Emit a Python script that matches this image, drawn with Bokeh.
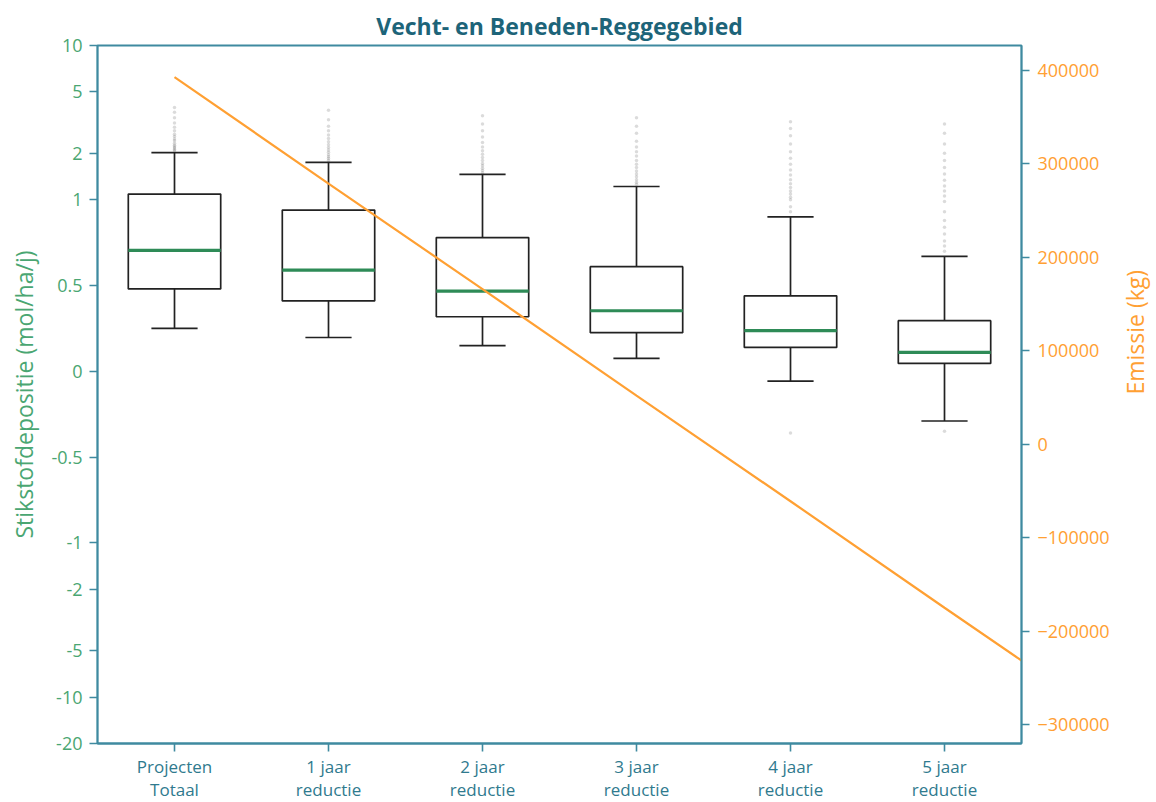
import math
import numpy as np
from bokeh.plotting import figure
from bokeh.models import Range1d, LinearAxis, FixedTicker
from bokeh.embed import file_html
from bokeh.resources import INLINE

# ---------------- data ----------------
categories = ["Projecten\nTotaal", "1 jaar\nreductie", "2 jaar\nreductie",
              "3 jaar\nreductie", "4 jaar\nreductie", "5 jaar\nreductie"]
whisker_hi = [2.02, 1.75, 1.46, 1.22, 0.90, 0.67]
q3 = [1.09, 0.94, 0.78, 0.61, 0.44, 0.295]
median = [0.705, 0.59, 0.468, 0.353, 0.237, 0.11]
q1 = [0.48, 0.41, 0.318, 0.225, 0.139, 0.046]
whisker_lo = [0.25, 0.197, 0.15, 0.075, -0.058, -0.29]

fliers_0 = [2.08, 2.12, 2.17, 2.21, 2.26, 2.33, 2.41, 2.48, 2.57, 2.66, 2.8, 2.95, 3.15, 3.4, 3.7, 3.96]
fliers_1 = [1.8, 1.85, 1.9, 1.96, 2.03, 2.1, 2.18, 2.27, 2.38, 2.5, 2.63, 2.8, 3.0, 3.3, 3.8]
fliers_2 = [1.5, 1.55, 1.6, 1.66, 1.72, 1.8, 1.88, 1.97, 2.08, 2.2, 2.35, 2.55, 2.8, 3.1, 3.5]
fliers_3 = [1.26, 1.3, 1.35, 1.41, 1.47, 1.54, 1.62, 1.7, 1.8, 1.92, 2.05, 2.2, 2.4, 2.7, 3.0, 3.4]
fliers_4 = [0.93, 0.96, 1.0, 1.04, 1.09, 1.14, 1.2, 1.27, 1.35, 1.45, 1.56, 1.7, 1.86, 2.05, 2.3, 2.6, 2.9, 3.2, -0.36]
fliers_5 = [0.7, 0.73, 0.76, 0.8, 0.84, 0.88, 0.93, 0.99, 1.06, 1.14, 1.23, 1.34, 1.47, 1.62, 1.8, 2.0, 2.3, 2.7, 3.1, -0.35]
fliers = [fliers_0, fliers_1, fliers_2, fliers_3, fliers_4, fliers_5]

emission_x = [0, 1, 2, 3, 4, 5, 6]
emission = [393000, 279000, 166000, 52000, -61000, -175000, -288000]

ytick_vals = [10, 5, 2, 1, 0.5, 0, -0.5, -1, -2, -5, -10, -20]
ytick_labels = ["10", "5", "2", "1", "0.5", "0", "-0.5", "-1", "-2", "-5", "-10", "-20"]
em_ticks = [-300000, -200000, -100000, 0, 100000, 200000, 300000, 400000]
em_labels = ["\u2212300000", "\u2212200000", "\u2212100000", "0", "100000", "200000", "300000", "400000"]

# symlog transform (linthresh=1, linscale=1, base 10)
C = 1.0 / (1.0 - 0.1)


def T(v):
    v = float(v)
    if abs(v) <= 1:
        return round(v * C, 9)
    return round(float(np.sign(v)) * (C + np.log10(abs(v))), 9)


FONT = "Open Sans"
TEAL = "#3f8aa0"
TITLE_C = "#1d6479"
GREEN_T = "#4aa672"
ORANGE = "#ffa033"
XLAB = "#2f7a8e"

p = figure(frame_width=924, frame_height=698,
           x_range=Range1d(-0.5, 5.5), y_range=Range1d(T(-20), T(10)),
           output_backend="svg", toolbar_location=None,
           min_border_left=97, min_border_right=135, min_border_top=45, min_border_bottom=59,
           title="Vecht- en Beneden-Reggegebied")
p.extra_y_ranges = {"em": Range1d(-320300, 426800)}

p.title.align = "center"
p.title.text_font = FONT
p.title.text_font_size = "23px"
p.title.text_font_style = "bold"
p.title.text_color = TITLE_C
p.title.standoff = 8
p.xgrid.visible = False
p.ygrid.visible = False
p.outline_line_color = TEAL
p.outline_line_width = 1.8
p.background_fill_color = "white"

xs = list(range(len(categories)))

# whiskers
p.segment(x0=xs, x1=xs, y0=[T(v) for v in q3], y1=[T(v) for v in whisker_hi],
          line_color="#222222", line_width=1.7)
p.segment(x0=xs, x1=xs, y0=[T(v) for v in q1], y1=[T(v) for v in whisker_lo],
          line_color="#222222", line_width=1.7)
# caps
p.segment(x0=[x - 0.15 for x in xs], x1=[x + 0.15 for x in xs],
          y0=[T(v) for v in whisker_hi], y1=[T(v) for v in whisker_hi],
          line_color="#222222", line_width=1.7)
p.segment(x0=[x - 0.15 for x in xs], x1=[x + 0.15 for x in xs],
          y0=[T(v) for v in whisker_lo], y1=[T(v) for v in whisker_lo],
          line_color="#222222", line_width=1.7)
# boxes
p.vbar(x=xs, width=0.6, top=[T(v) for v in q3], bottom=[T(v) for v in q1],
       fill_color="white", line_color="#222222", line_width=1.7)
# medians
p.segment(x0=[x - 0.3 for x in xs], x1=[x + 0.3 for x in xs],
          y0=[T(v) for v in median], y1=[T(v) for v in median],
          line_color="#2e8b57", line_width=3.2)
# fliers
fx, fy = [], []
for i, fl in enumerate(fliers):
    for v in fl:
        fx.append(i)
        fy.append(T(v))
p.scatter(x=fx, y=fy, size=3.5, fill_color="black", line_color=None, fill_alpha=0.14)

# emission line
p.line(x=emission_x, y=emission, y_range_name="em", line_color=ORANGE, line_width=2.2)

# left axis
ya = p.yaxis[0]
ya.ticker = FixedTicker(ticks=[T(v) for v in ytick_vals])
ya.major_label_overrides = {T(v): lab for v, lab in zip(ytick_vals, ytick_labels)}
ya.axis_label = "Stikstofdepositie (mol/ha/j)"
ya.axis_label_text_color = GREEN_T
ya.axis_label_text_font = FONT
ya.axis_label_text_font_size = "23px"
ya.axis_label_text_font_style = "normal"
ya.axis_label_standoff = 8
ya.major_label_text_color = GREEN_T
ya.major_label_text_font = FONT
ya.major_label_text_font_size = "18px"
ya.major_label_standoff = 7

# right axis
ra = LinearAxis(y_range_name="em", ticker=FixedTicker(ticks=em_ticks),
                major_label_overrides={t: lab for t, lab in zip(em_ticks, em_labels)})
ra.axis_label = "Emissie (kg)"
ra.axis_label_orientation = math.pi / 2
ra.axis_label_text_color = ORANGE
ra.axis_label_text_font = FONT
ra.axis_label_text_font_size = "23px"
ra.axis_label_text_font_style = "normal"
ra.axis_label_standoff = 22
ra.major_label_text_color = ORANGE
ra.major_label_text_font = FONT
ra.major_label_text_font_size = "18px"
ra.major_label_standoff = 8
p.add_layout(ra, "right")

# x axis
xa = p.xaxis[0]
xa.ticker = FixedTicker(ticks=xs)
xa.major_label_overrides = {i: c for i, c in enumerate(categories)}
xa.major_label_text_color = XLAB
xa.major_label_text_font = FONT
xa.major_label_text_font_size = "17px"
xa.major_label_text_line_height = 1.0
xa.major_label_standoff = 3

for ax in [xa, ya, ra]:
    ax.axis_line_color = TEAL
    ax.axis_line_width = 1.8
    ax.major_tick_line_color = TEAL
    ax.major_tick_line_width = 1.6
    ax.major_tick_out = 8
    ax.major_tick_in = 0
    ax.minor_tick_line_color = None

open("out.html", "w").write(file_html(p, INLINE))
